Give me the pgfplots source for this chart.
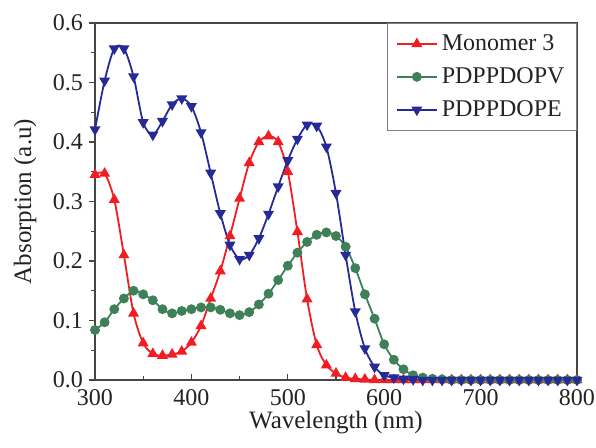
\documentclass[border=0pt]{standalone}
\usepackage{fontspec}
\setmainfont{Liberation Serif}
\usepackage{pgfplots}
\usepackage{pgfplotstable}
\pgfplotsset{compat=1.18}

\definecolor{monored}{RGB}{240,30,35}
\definecolor{pvgreen}{RGB}{62,128,88}
\definecolor{peblue}{RGB}{38,42,150}
\definecolor{axgray}{RGB}{70,70,70}
\definecolor{txtgray}{RGB}{35,35,35}

% wavelength (nm) vs absorption, every 10 nm
\pgfplotstableread{
x y
300 0.345
310 0.347
320 0.303
330 0.210
340 0.112
350 0.062
360 0.044
370 0.041
380 0.043
390 0.048
400 0.063
410 0.091
420 0.137
430 0.183
440 0.242
450 0.305
460 0.365
470 0.400
480 0.410
490 0.400
500 0.350
510 0.249
520 0.136
530 0.059
540 0.025
550 0.011
560 0.004
570 0.002
580 0.001
590 0
600 0
610 0
620 0
630 0
640 0
650 0
660 0
670 0
680 0
690 0
700 0
710 0
720 0
730 0
740 0
750 0
760 0
770 0
780 0
790 0
800 0
}\monomer

\pgfplotstableread{
x y
300 0.084
310 0.097
320 0.119
330 0.137
340 0.150
350 0.144
360 0.134
370 0.119
380 0.112
390 0.116
400 0.119
410 0.122
420 0.122
430 0.118
440 0.112
450 0.109
460 0.114
470 0.127
480 0.145
490 0.168
500 0.192
510 0.214
520 0.232
530 0.244
540 0.248
550 0.242
560 0.224
570 0.188
580 0.144
590 0.103
600 0.060
610 0.034
620 0.018
630 0.008
640 0.004
650 0.002
660 0.001
670 0
680 0
690 0
700 0
710 0
720 0
730 0
740 0
750 0
760 0
770 0
780 0
790 0
800 0
}\pdppdopv

\pgfplotstableread{
x y
300 0.421
310 0.503
320 0.557
330 0.557
340 0.510
350 0.433
360 0.412
370 0.435
380 0.463
390 0.473
400 0.460
410 0.416
420 0.348
430 0.280
440 0.227
450 0.203
460 0.210
470 0.238
480 0.279
490 0.325
500 0.369
510 0.405
520 0.429
530 0.427
540 0.392
550 0.314
560 0.210
570 0.115
580 0.053
590 0.022
600 0.008
610 0.004
620 0.002
630 0.001
640 0
650 0
660 0
670 0
680 0
690 0
700 0
710 0
720 0
730 0
740 0
750 0
760 0
770 0
780 0
790 0
800 0
}\pdppdope

\begin{document}
\begin{tikzpicture}
\begin{axis}[
    scale only axis,
    width=241pt, height=178.5pt,
    xmin=300, xmax=800, ymin=0, ymax=0.6,
    xtick={300,400,...,800},
    ytick={0,0.1,...,0.6},
    minor x tick num=1, minor y tick num=1,
    xtick pos=bottom, ytick pos=left,
    tick align=inside,
    major tick length=3pt, minor tick length=2pt,
    major y tick style={xshift=-3pt},
    minor y tick style={xshift=-2pt},
    every tick/.style={axgray, line width=0.6pt},
    axis line style={axgray, line width=0.7pt},
    yticklabel style={/pgf/number format/fixed, /pgf/number format/precision=1,
                      /pgf/number format/fixed zerofill, xshift=-2.5pt},
    xticklabel style={yshift=-1pt},
    /pgf/number format/assume math mode=true,
    tick label style={font=\fontsize{12}{14}\selectfont, text=txtgray},
    label style={font=\fontsize{12.5}{15}\selectfont, text=txtgray},
    xlabel={Wavelength (nm)},
    ylabel={Absorption (a.u)},
    xlabel style={at={(axis description cs:0.5,-0.118)}, anchor=center},
    ylabel style={at={(axis description cs:-0.145,0.5)}, anchor=center},
    legend cell align=left,
    legend style={at={(rel axis cs:1,1)}, anchor=north east,
                  draw=gray, line width=0.5pt, fill=white,
                  font=\fontsize{12}{14}\selectfont, text=txtgray,
                  inner xsep=4pt, inner ysep=3.5pt,
                  row sep=3pt},
    legend image code/.code={
        \draw[mark repeat=2, mark phase=2, #1]
        plot coordinates {(0pt,0pt) (10pt,0pt) (20pt,0pt)};},
    every axis plot/.append style={line width=0.9pt, smooth, tension=0.5},
]
\addplot[monored, mark=triangle*, mark size=2.3pt,
         mark options={solid, fill=monored}] table {\monomer};
\addplot[pvgreen, mark=*, mark size=2pt,
         mark options={solid, fill=pvgreen}] table {\pdppdopv};
\addplot[peblue, mark=triangle*, mark size=2.3pt,
         mark options={solid, fill=peblue, rotate=180}] table {\pdppdope};
\legend{Monomer 3, PDPPDOPV, PDPPDOPE}
\end{axis}
\pgfresetboundingbox
\path[use as bounding box] (-47.5pt,-34pt) rectangle (250.5pt,190pt);
\end{tikzpicture}
\end{document}
